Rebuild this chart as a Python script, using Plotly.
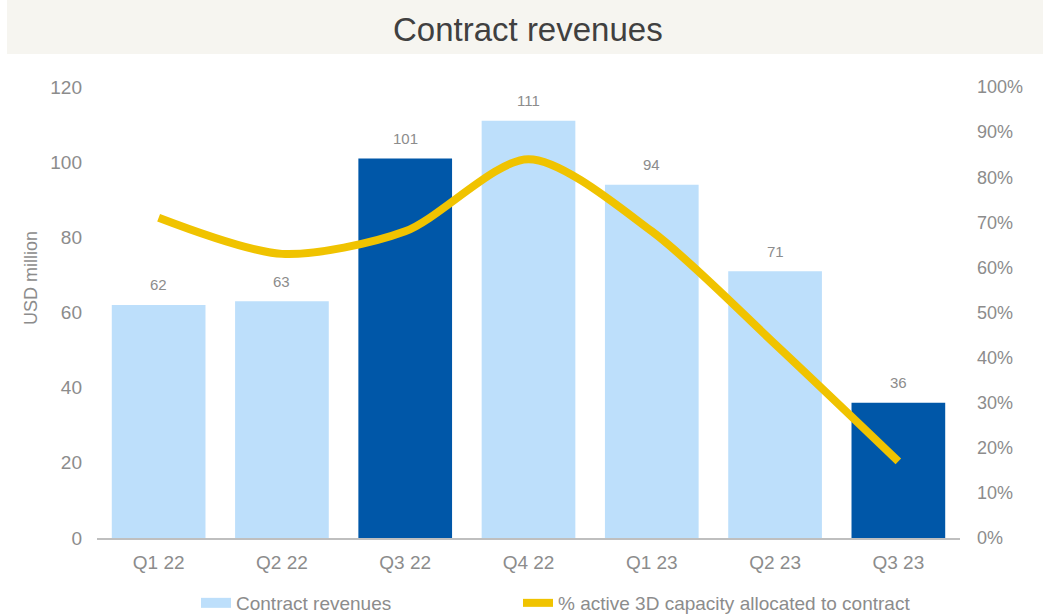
import plotly.graph_objects as go

categories = ["Q1 22", "Q2 22", "Q3 22", "Q4 22", "Q1 23", "Q2 23", "Q3 23"]
revenues = [62, 63, 101, 111, 94, 71, 36]
capacity_pct = [71, 63, 68, 84, 68, 43, 17]
highlight = [False, False, True, False, False, False, True]

LIGHT = "#BDDFFB"
DARK = "#0057A8"
YELLOW = "#F0C300"
GRAY = "#8C8C8C"
FONT = "Liberation Sans, Arial, sans-serif"

W, H = 1043, 615
L, R, T, B = 97, 83, 87, 77
pw, ph = W - L - R, H - T - B

fig = go.Figure()
fig.add_trace(go.Bar(
    x=categories, y=revenues, name="Contract revenues",
    marker=dict(color=[DARK if h else LIGHT for h in highlight], line=dict(width=0)),
    yaxis="y", hoverinfo="skip", showlegend=False,
))
fig.add_trace(go.Scatter(
    x=categories, y=capacity_pct, name="% active 3D capacity allocated to contract",
    mode="lines", line=dict(color=YELLOW, width=8, shape="spline", smoothing=0.8),
    yaxis="y2", legend="legend2",
))
# legend entry for the bars (wide light-blue swatch)
fig.add_trace(go.Scatter(
    x=[None], y=[None], name="Contract revenues", mode="lines",
    line=dict(color=LIGHT, width=10), legend="legend", hoverinfo="skip",
))

for c, v in zip(categories, revenues):
    fig.add_annotation(x=c, y=v, text=str(v), showarrow=False, yshift=20,
                       font=dict(size=15, color=GRAY, family=FONT), xref="x", yref="y")

# title band
fig.add_shape(type="rect", xref="paper", yref="paper",
              x0=(7 - L) / pw, x1=(W - L) / pw,
              y0=(H - B - 54) / ph, y1=(H - B) / ph,
              fillcolor="#F6F5F0", line=dict(width=0), layer="below")
fig.add_annotation(xref="paper", yref="paper", x=(528 - L) / pw, y=(H - B - 30) / ph,
                   text="Contract revenues", showarrow=False,
                   font=dict(size=33, color="#404040", family=FONT),
                   xanchor="center", yanchor="middle")
# y-axis title
fig.add_annotation(xref="paper", yref="paper", x=(31 - L) / pw, y=(H - B - 278) / ph,
                   text="USD million", showarrow=False, textangle=-90,
                   font=dict(size=18, color=GRAY, family=FONT),
                   xanchor="center", yanchor="middle")

leg_common = dict(orientation="h", xanchor="left", yanchor="middle",
                  y=(H - B - 603) / ph, font=dict(size=19, color=GRAY, family=FONT),
                  bgcolor="rgba(0,0,0,0)", itemwidth=30)

fig.update_layout(
    width=W, height=H,
    margin=dict(l=L, r=R, t=T, b=B, autoexpand=False),
    paper_bgcolor="white", plot_bgcolor="white",
    bargap=0.24,
    font=dict(family=FONT, color=GRAY, size=18),
    showlegend=True,
    legend=dict(x=(196 - L) / pw, **leg_common),
    legend2=dict(x=(518 - L) / pw, **leg_common),
    xaxis=dict(showgrid=False, showline=True, linecolor="#BFBFBF", linewidth=2,
               ticks="", tickfont=dict(size=19, color=GRAY), ticklabelstandoff=6,
               range=[-0.5, 6.5], zeroline=False, automargin=False),
    yaxis=dict(range=[0, 120], dtick=20, showgrid=False, showline=False, zeroline=False,
               tickfont=dict(size=19, color=GRAY), ticklabelstandoff=14, automargin=False),
    yaxis2=dict(range=[0, 100], dtick=10, overlaying="y", side="right",
                showgrid=False, showline=False, zeroline=False, ticksuffix="%",
                tickfont=dict(size=18, color=GRAY), ticklabelstandoff=16, automargin=False),
)
fig.write_html("out.html", config={"displayModeBar": False},
               post_script="document.body.style.margin='0';document.body.style.overflow='hidden';")
